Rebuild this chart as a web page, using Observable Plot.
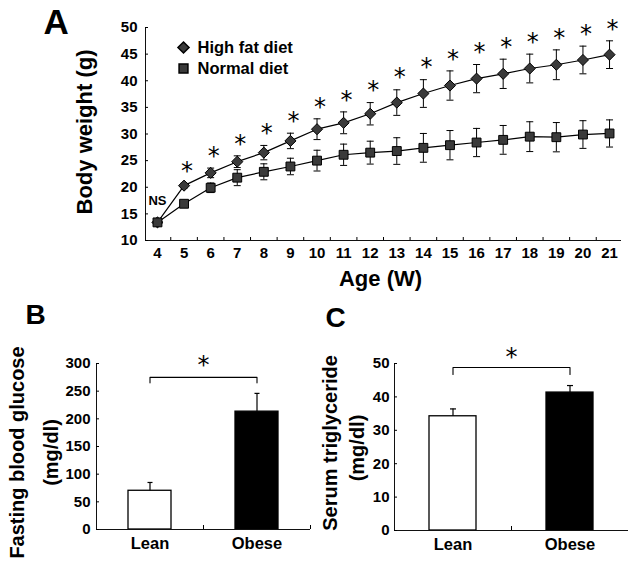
<!DOCTYPE html>
<html><head><meta charset="utf-8">
<script src="https://cdn.jsdelivr.net/npm/d3@7"></script>
<script src="https://cdn.jsdelivr.net/npm/@observablehq/plot@0.6"></script>
<style>
html,body{margin:0;padding:0;background:#fff;}
#wrap{position:relative;width:628px;height:562px;overflow:hidden;background:#fff;}
#wrap > div{position:absolute;}
</style></head><body>
<div id="wrap">
  <div id="pa" style="left:0;top:0;width:628px;height:290px"></div>
  <div id="pb" style="left:0;top:280px;width:320px;height:282px"></div>
  <div id="pc" style="left:320px;top:280px;width:308px;height:282px"></div>
</div>
<script>
// ---------- Panel A data ----------
const weeks = [4,5,6,7,8,9,10,11,12,13,14,15,16,17,18,19,20,21];
const seriesNames = ["High fat diet", "Normal diet"];
const hfdMean = [13.4, 20.3, 22.7, 24.8, 26.5, 28.7, 30.9, 32.1, 33.8, 35.9, 37.6, 39.1, 40.4, 41.3, 42.3, 43.0, 43.9, 44.9];
const hfdErr  = [0.5, 0.45, 0.9, 1.1, 1.35, 1.45, 1.95, 2.05, 2.1, 2.4, 2.6, 2.75, 2.65, 2.75, 2.7, 2.8, 2.6, 2.6];
const ndMean  = [13.4, 16.9, 19.9, 21.8, 22.9, 23.9, 25.0, 26.1, 26.5, 26.8, 27.4, 27.9, 28.4, 28.9, 29.5, 29.4, 29.9, 30.1];
const ndErr   = [0.5, 0.5, 0.9, 1.5, 1.5, 1.55, 1.95, 2.0, 2.15, 2.5, 2.7, 2.75, 2.65, 2.7, 2.8, 2.75, 2.6, 2.55];
const significance = ["NS","*","*","*","*","*","*","*","*","*","*","*","*","*","*","*","*","*"];
const yTicksA = [10,15,20,25,30,35,40,45,50];

// ---------- Panels B & C data ----------
const groups = ["Lean", "Obese"];
const glucoseMean = [70, 213];
const glucoseErr  = [15, 33];
const tgMean = [34.2, 41.3];
const tgErr  = [2.2, 2.1];
const yTicksB = [0,50,100,150,200,250,300];
const yTicksC = [0,10,20,30,40,50];
const bracketB = [265, 275, 297];   // drop end, bracket level, star level
const bracketC = [46.7, 48.8, 51.8];

const font = '"Liberation Sans", Arial, Helvetica, sans-serif';
const capSymbol = {draw(ctx, size) { const w = Math.sqrt(size / Math.PI); ctx.moveTo(-w, 0); ctx.lineTo(w, 0); }};
const T = {lineAnchor: "middle"};

// ---------- Panel A ----------
const rowsA = [];
weeks.forEach((w, i) => {
  rowsA.push({series: seriesNames[0], week: w, mean: hfdMean[i], err: hfdErr[i]});
  rowsA.push({series: seriesNames[1], week: w, mean: ndMean[i], err: ndErr[i]});
});
const sigRows = weeks.map((w, i) => ({week: w, top: Math.max(hfdMean[i] + hfdErr[i], ndMean[i] + ndErr[i]), mark: significance[i]}));
const xDomA = [weeks[0] - 0.45, weeks[weeks.length - 1] + 0.45];
const weekBounds = weeks.slice(0, -1).map(w => w + 0.5);

const A = Plot.plot({
  width: 628, height: 290,
  marginLeft: 145, marginRight: 7, marginTop: 27, marginBottom: 50,
  style: {fontFamily: font, fontWeight: "bold", color: "#000", background: "transparent", overflow: "visible"},
  x: {type: "linear", domain: xDomA, label: null},
  y: {domain: [10, 50], label: null},
  symbol: {domain: seriesNames, range: ["diamond2", "square"], legend: false},
  marks: [
    Plot.ruleX([xDomA[0]], {stroke: "#111"}),
    Plot.ruleY([10], {stroke: "#111"}),
    Plot.axisY({ticks: yTicksA, tickSize: -3, tickPadding: 11, fontSize: 15, label: null}),
    Plot.axisX({ticks: weeks, tickSize: 0, tickPadding: 7, fontSize: 15, label: null}),
    Plot.axisX({ticks: weekBounds, tickSize: -3, tickFormat: () => "", label: null}),
    Plot.ruleX(rowsA, {x: "week", y1: d => d.mean - d.err, y2: d => d.mean + d.err, stroke: "#000", strokeWidth: 1}),
    Plot.dot(rowsA, {x: "week", y: d => d.mean + d.err, symbol: capSymbol, r: 3.5, fill: "none", stroke: "#000", strokeWidth: 1}),
    Plot.dot(rowsA, {x: "week", y: d => d.mean - d.err, symbol: capSymbol, r: 3.5, fill: "none", stroke: "#000", strokeWidth: 1}),
    Plot.line(rowsA, {x: "week", y: "mean", z: "series", stroke: "#000", strokeWidth: 1.2}),
    Plot.dot(rowsA, {x: "week", y: "mean", symbol: "series", r: 5, fill: "#3a3a3a", stroke: "#000", strokeWidth: 1}),
    Plot.text(sigRows.filter(d => d.mark === "*"), {x: "week", y: "top", text: "mark", dx: 3, dy: -12, fontSize: 24, fontWeight: "normal", fontFamily: "DejaVu Sans", fill: "#000"}),
    Plot.text(sigRows.filter(d => d.mark !== "*"), {x: "week", y: "top", text: "mark", dy: -19, fontSize: 13}),
    // legend
    Plot.dot([seriesNames[0]], {frameAnchor: "top-left", dx: 38, dy: 20, symbol: d => d, r: 5, fill: "#3a3a3a", stroke: "#000"}),
    Plot.dot([seriesNames[1]], {frameAnchor: "top-left", dx: 38, dy: 41, symbol: d => d, r: 5, fill: "#3a3a3a", stroke: "#000"}),
    Plot.text([seriesNames[0]], {...T, frameAnchor: "top-left", dx: 52, dy: 20, textAnchor: "start", fontSize: 16.5}),
    Plot.text([seriesNames[1]], {...T, frameAnchor: "top-left", dx: 52, dy: 41, textAnchor: "start", fontSize: 16.5}),
    // axis titles & panel letter
    Plot.text(["Body weight (g)"], {...T, frameAnchor: "left", textAnchor: "middle", rotate: -90, dx: -61, dy: -2, fontSize: 22}),
    Plot.text(["Age (W)"], {...T, frameAnchor: "bottom", textAnchor: "middle", dx: -3, dy: 38.5, fontSize: 22}),
    Plot.text(["A"], {...T, frameAnchor: "top-left", dx: -102, dy: -4.5, textAnchor: "start", fontSize: 35})
  ]
});
document.getElementById("pa").append(A);

// ---------- Bar panel helper ----------
function barPanel({means, errs, yDomain, yTicks, bracket, width, marginLeft, marginRight, marginTop, marginBottom,
                   tickPadding, capR, labelLines, labelDx, labelDy, letter, letterDx, letterDy}) {
  const rows = groups.map((g, i) => ({group: g, mean: means[i], err: errs[i]}));
  const innerW = width - marginLeft - marginRight;
  const step = innerW / groups.length;
  const bracketPts = [
    {group: groups[0], y: bracket[0]}, {group: groups[0], y: bracket[1]},
    {group: groups[1], y: bracket[1]}, {group: groups[1], y: bracket[0]}
  ];
  return Plot.plot({
    width, height: 282, marginLeft, marginRight, marginTop, marginBottom,
    style: {fontFamily: font, fontWeight: "bold", color: "#000", background: "transparent", overflow: "visible"},
    x: {domain: groups, paddingInner: 0.6, paddingOuter: 0.3, label: null},
    y: {domain: yDomain, label: null},
    marks: [
      Plot.barY(rows, {x: "group", y: "mean", fill: d => d.group === groups[0] ? "#fff" : "#000", stroke: "#000", strokeWidth: 1.3}),
      Plot.ruleX(rows, {x: "group", y1: "mean", y2: d => d.mean + d.err, stroke: "#000", strokeWidth: 1.2}),
      Plot.dot(rows, {x: "group", y: d => d.mean + d.err, symbol: capSymbol, r: capR, fill: "none", stroke: "#000", strokeWidth: 1.2}),
      Plot.frame({anchor: "left", stroke: "#111"}),
      Plot.ruleY([yDomain[0]], {stroke: "#111"}),
      Plot.axisY({ticks: yTicks, tickSize: -3, tickPadding, fontSize: 15, label: null}),
      Plot.axisX({tickSize: 0, tickPadding: 8, fontSize: 16.5, label: null}),
      Plot.axisX(groups, {tickSize: -4, tickFormat: () => "", dx: step / 2, label: null}),
      Plot.line(bracketPts, {x: "group", y: "y", stroke: "#000", strokeWidth: 1.1}),
      Plot.text(["*"], {...T, frameAnchor: "middle", textAnchor: "middle", y: () => bracket[2], fontSize: 24, fontWeight: "normal", fontFamily: "DejaVu Sans", fill: "#000"}),
      Plot.text([labelLines[0]], {...T, frameAnchor: "left", textAnchor: "middle", rotate: -90, dx: labelDx[0], dy: labelDy[0], fontSize: 20}),
      Plot.text([labelLines[1]], {...T, frameAnchor: "left", textAnchor: "middle", rotate: -90, dx: labelDx[1], dy: labelDy[1], fontSize: 20}),
      Plot.text([letter], {...T, frameAnchor: "top-left", dx: letterDx, dy: letterDy, textAnchor: "start", fontSize: 28})
    ]
  });
}

const B = barPanel({
  means: glucoseMean, errs: glucoseErr, yDomain: [0, 300], yTicks: yTicksB, bracket: bracketB,
  width: 320, marginLeft: 96, marginRight: 10, marginTop: 83, marginBottom: 33, tickPadding: 9, capR: 2.5,
  labelLines: ["Fasting blood glucose", "(mg/dl)"], labelDx: [-79, -45], labelDy: [6, 6],
  letter: "B", letterDx: -71, letterDy: -48
});
document.getElementById("pb").append(B);

const C = barPanel({
  means: tgMean, errs: tgErr, yDomain: [0, 50], yTicks: yTicksC, bracket: bracketC,
  width: 308, marginLeft: 74, marginRight: 0, marginTop: 83, marginBottom: 32, tickPadding: 8, capR: 3,
  labelLines: ["Serum triglyceride", "(mg/dl)"], labelDx: [-63.5, -36.5], labelDy: [-4, 1],
  letter: "C", letterDx: -69, letterDy: -45.5
});
document.getElementById("pc").append(C);
</script>
</body></html>
